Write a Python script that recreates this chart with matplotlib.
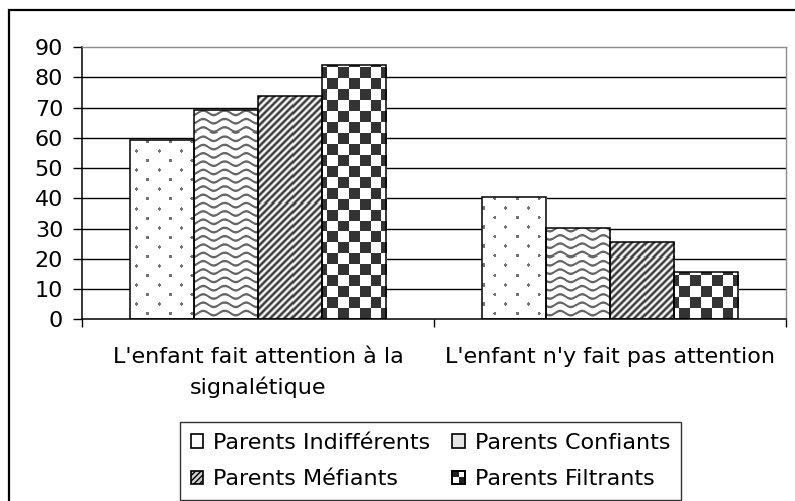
import numpy as np
import matplotlib
matplotlib.use("Agg")
import matplotlib.pyplot as plt
from matplotlib.patches import Patch, Rectangle
from matplotlib.legend_handler import HandlerBase

plt.rcParams.update({"font.family": "DejaVu Sans", "font.size": 16,
                     "hatch.linewidth": 1.0})

CATEGORIES = ["L'enfant fait attention à la\nsignalétique",
              "L'enfant n'y fait pas attention"]
SERIES = ["Parents Indifférents", "Parents Confiants",
          "Parents Méfiants", "Parents Filtrants"]
INDIFFERENTS = [59.3, 40.3]
CONFIANTS = [69.3, 30.2]
MEFIANTS = [73.8, 25.6]
FILTRANTS = [83.9, 15.7]
YTICKS = [0, 10, 20, 30, 40, 50, 60, 70, 80, 90]

fig = plt.figure(figsize=(7.95, 5.01), dpi=100)
ax = fig.add_axes([0.1031, 0.3623, 0.8852, 0.5439])

# fill textures, in axes pixel units
H, W = 272, 704
r, c = np.mgrid[0:H, 0:W]
row_id = np.floor((r + 4.75) / 9.5)
dr = ((r + 4.75) % 9.5) - 4.75
dc = ((c - (row_id % 2) * 10.85 + 10.85) % 21.7) - 10.85
dots = np.where(dr ** 2 + dc ** 2 < 2.6, 0.45, 1.0)
d = np.abs(((r - 2.2 * np.sin(2 * np.pi * c / 21.0)) + 4.15) % 8.3 - 4.15)
wave = 1 - 0.6 * np.clip(1.7 - d, 0, 1)
stripes = 0.6 + 0.4 * np.cos(2 * np.pi * (c + r) / 7.0)
ny, nx = 25, 66
checker = np.where((np.add.outer(np.arange(ny), np.arange(nx)) % 2) == 0, 0.2, 1.0)

x = np.arange(len(CATEGORIES))
bw = 0.182
values = [INDIFFERENTS, CONFIANTS, MEFIANTS, FILTRANTS]
textures = [dots, wave, stripes, checker]

for i, vals in enumerate(values):
    xs = x + (i - 1.5) * bw
    bars = ax.bar(xs, vals, bw, facecolor="white", linewidth=0, zorder=2)
    for b in bars:
        im = ax.imshow(textures[i], extent=(-0.5, 1.5, 0, 90), aspect="auto",
                       cmap="gray", vmin=0, vmax=1, interpolation="nearest",
                       zorder=2.5)
        im.set_clip_path(b)
    ax.bar(xs, vals, bw, fill=False, edgecolor="black", linewidth=1.1, zorder=3)

for yv in YTICKS[1:-1]:
    ax.axhline(yv, color="black", lw=1.0, zorder=1)

ax.set_xlim(-0.5, 1.5)
ax.set_ylim(0, 90)
ax.set_yticks(YTICKS)
ax.tick_params(axis="y", length=6.5, width=1.0, pad=7, colors="black")
ax.set_xticks([-0.5, 0.5, 1.5])
ax.set_xticklabels([])
ax.tick_params(axis="x", which="major", length=6, width=1.0, direction="out")
ax.set_xticks(x, minor=True)
ax.set_xticklabels(CATEGORIES, minor=True, linespacing=1.5)
ax.tick_params(axis="x", which="minor", length=0, pad=20)

for s in ["left", "bottom"]:
    ax.spines[s].set_color("black")
    ax.spines[s].set_linewidth(1.1)
for s in ["top", "right"]:
    ax.spines[s].set_color("#8c8c8c")
    ax.spines[s].set_linewidth(1.0)


class HandlerChecker(HandlerBase):
    def create_artists(self, legend, orig_handle, xdescent, ydescent,
                       width, height, fontsize, trans):
        x0, y0 = -xdescent, -ydescent
        w2, h2 = width / 2, height / 2
        arts = [Rectangle((x0, y0 + h2), w2, h2, facecolor="#202020", lw=0, transform=trans),
                Rectangle((x0 + w2, y0), w2, h2, facecolor="#202020", lw=0, transform=trans),
                Rectangle((x0, y0), width, height, fill=False, edgecolor="black",
                          lw=1.4, transform=trans)]
        return arts


checker_handle = Patch(facecolor="white", edgecolor="black")
handles = [Patch(facecolor="white", edgecolor="black", lw=1.2),
           Patch(facecolor="#d0d0d0", edgecolor="black", hatch="//////", lw=1.2),
           Patch(facecolor="#e4e4e4", edgecolor="black", lw=1.2),
           checker_handle]
labels = [SERIES[0], SERIES[2], SERIES[1], SERIES[3]]
leg = fig.legend(handles, labels, ncol=2, loc="center",
                 bbox_to_anchor=(0.5415, 0.0798), frameon=True, fancybox=False,
                 edgecolor="black", handlelength=0.55, handleheight=0.55,
                 handletextpad=0.45, columnspacing=1.0, labelspacing=0.75,
                 borderpad=0.5, borderaxespad=0, fontsize=16,
                 handler_map={checker_handle: HandlerChecker()})
leg.get_frame().set_linewidth(1.0)

fig.add_artist(Rectangle((9 / 795, -0.1), 1.2, 1.08, transform=fig.transFigure,
                         fill=False, edgecolor="black", lw=1.6))

fig.savefig("out.png", dpi=100)
